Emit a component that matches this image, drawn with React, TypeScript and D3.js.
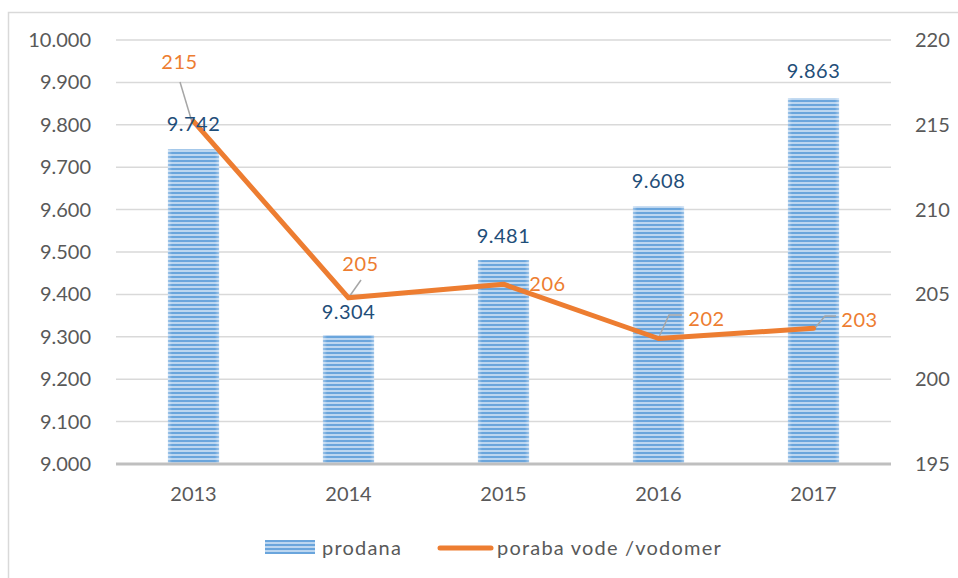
import React from "react";
import * as d3 from "d3";

const categories = ["2013", "2014", "2015", "2016", "2017"];
const prodana = [9742, 9304, 9481, 9608, 9863];
const poraba = [215.2, 204.8, 205.6, 202.4, 203.0];
const porabaLabels = ["215", "205", "206", "202", "203"];
const leftTicks = [9000, 9100, 9200, 9300, 9400, 9500, 9600, 9700, 9800, 9900, 10000];
const rightTicks = [195, 200, 205, 210, 215, 220];

const W = 958, H = 578;
const plot = { left: 116, right: 891, top: 40, bottom: 464 };

const fmt = (v: number) => d3.format(",.0f")(v).replace(",", ".");
const fmtLab = (v: number) => d3.format(",")(v).replace(",", ".");

export default function App() {
  const x = d3.scaleBand().domain(categories).range([plot.left, plot.right]).paddingInner(0.67).paddingOuter(0.335);
  const yL = d3.scaleLinear().domain([9000, 10000]).range([plot.bottom, plot.top]);
  const yR = d3.scaleLinear().domain([195, 220]).range([plot.bottom, plot.top]);
  const cx = (c: string) => (x(c) as number) + x.bandwidth() / 2;
  const line = d3.line<number>().x((_, i) => cx(categories[i])).y((d) => yR(d));
  const font = "Lato, 'Open Sans', sans-serif";

  const lineLabOff = [[-14, -59], [12, -34], [44, 0], [48, -19], [46, -8]];
  const leaders: number[][][] = [
    [[180, 82], [192, 122]],
    [[361, 280], [349, 297]],
    [],
    [[682, 315], [669, 315], [659, 337]],
    [[836, 316], [825, 316], [815, 328]],
  ];
  const barLabY = [124, 312, 236, 181, 71];

  return (
    <svg width={W} height={H} style={{ position: "absolute", left: 0, top: 0, background: "#fff" }} fontFamily={font}>
      <defs>
        <pattern id="stripes" width="8" height="4" patternUnits="userSpaceOnUse">
          <rect width="8" height="4" fill="#BCD6F0" />
          <rect y="0" width="8" height="2" fill="#6AA5DC" />
        </pattern>
        <linearGradient id="edge" x1="0" x2="1" y1="0" y2="0">
          <stop offset="0" stopColor="#fff" stopOpacity="0.35" />
          <stop offset="0.08" stopColor="#fff" stopOpacity="0" />
          <stop offset="0.92" stopColor="#fff" stopOpacity="0" />
          <stop offset="1" stopColor="#fff" stopOpacity="0.35" />
        </linearGradient>
      </defs>
      <rect x={8.5} y={12.5} width={W + 10} height={H + 10} fill="#fff" stroke="#D9D9D9" strokeWidth={1.5} />
      {leftTicks.map((t) => (
        <g key={t}>
          {t !== 9000 && <line x1={plot.left} x2={plot.right} y1={yL(t)} y2={yL(t)} stroke="#D9D9D9" strokeWidth={1.5} />}
          <text x={91} y={yL(t)} dy="0.35em" textAnchor="end" fontSize={20} fill="#595959">{fmt(t)}</text>
        </g>
      ))}
      {rightTicks.map((t) => (
        <text key={t} x={915} y={yR(t)} dy="0.35em" textAnchor="start" fontSize={20} fill="#595959">{t}</text>
      ))}
      {categories.map((c, i) => (
        <g key={c}>
          <rect x={x(c)} y={yL(prodana[i])} width={x.bandwidth()} height={plot.bottom - yL(prodana[i])} fill="url(#stripes)" />
          <rect x={x(c)} y={yL(prodana[i])} width={x.bandwidth()} height={plot.bottom - yL(prodana[i])} fill="url(#edge)" />
          <text x={cx(c)} y={plot.bottom + 30} dy="0.35em" textAnchor="middle" fontSize={20} fill="#595959">{c}</text>
        </g>
      ))}
      <line x1={plot.left} x2={plot.right} y1={plot.bottom} y2={plot.bottom} stroke="#BFBFBF" strokeWidth={3} />
      {leaders.map((pts, i) => pts.length > 0 && (
        <polyline key={i} points={pts.map((p) => p.join(",")).join(" ")} fill="none" stroke="#A6A6A6" strokeWidth={1.5} />
      ))}
      <path d={line(poraba) as string} fill="none" stroke="#ED7D31" strokeWidth={5} strokeLinejoin="round" strokeLinecap="round" />
      {categories.map((c, i) => (
        <text key={c} x={cx(c)} y={barLabY[i]} dy="0.35em" textAnchor="middle" fontSize={20} letterSpacing={0.5} fill="#1F4E79">{fmtLab(prodana[i])}</text>
      ))}
      {categories.map((c, i) => (
        <text key={c} x={cx(c) + lineLabOff[i][0]} y={yR(poraba[i]) + lineLabOff[i][1]} dy="0.35em" textAnchor="middle" fontSize={20} letterSpacing={0.5} fill="#ED7D31">{porabaLabels[i]}</text>
      ))}
      <g>
        <rect x={265} y={540} width={50} height={14} fill="url(#stripes)" />
        <text x={322} y={548} dy="0.35em" fontSize={20} letterSpacing={1.2} fill="#595959">prodana</text>
        <line x1={440} x2={491} y1={548} y2={548} stroke="#ED7D31" strokeWidth={5} strokeLinecap="round" />
        <text x={497} y={548} dy="0.35em" fontSize={20} letterSpacing={1.2} fill="#595959">poraba vode /vodomer</text>
      </g>
    </svg>
  );
}
